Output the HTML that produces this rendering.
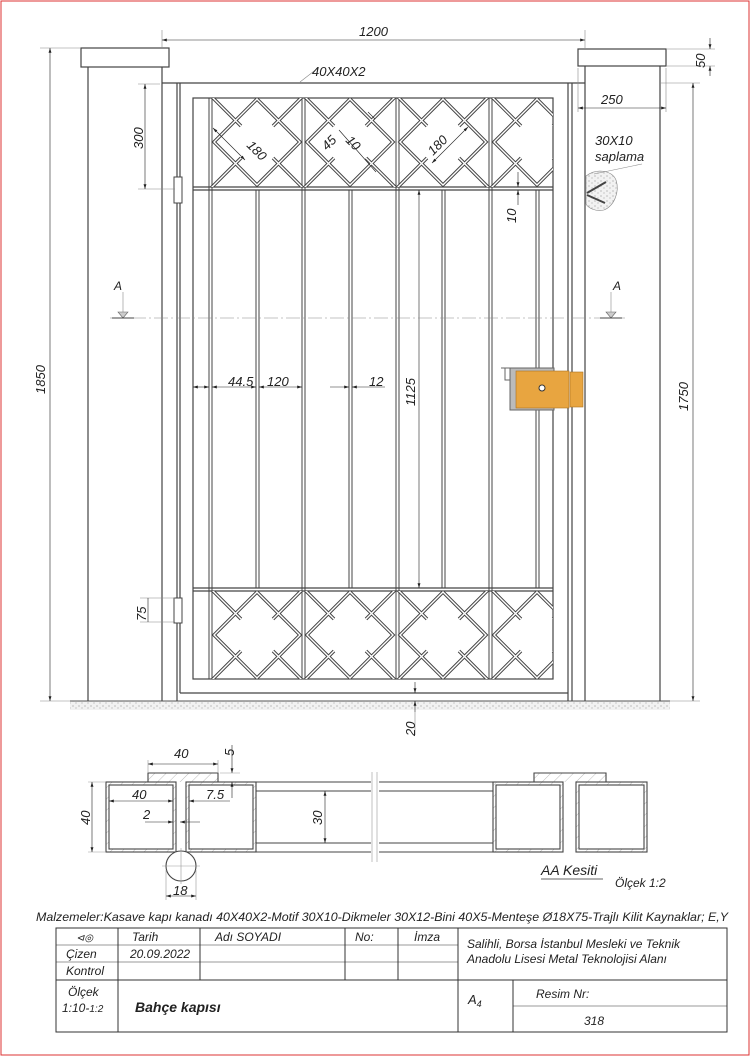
<!DOCTYPE html>
<html><head><meta charset="utf-8"><style>
html,body{margin:0;padding:0;background:#fff}
svg{display:block}
text{font-family:"Liberation Sans",sans-serif;font-style:italic;fill:#222}
</style></head><body>
<svg width="750" height="1056" viewBox="0 0 750 1056" xmlns="http://www.w3.org/2000/svg">
<defs>
<marker id="ar" viewBox="0 0 10 6" refX="10" refY="3" markerWidth="8" markerHeight="5" orient="auto-start-reverse"><path d="M0,0L10,3L0,6z" fill="#222"/></marker>
<pattern id="st" width="6" height="5" patternUnits="userSpaceOnUse"><rect width="6" height="5" fill="#f2f2f2"/><circle cx="1" cy="1" r=".6" fill="#999"/><circle cx="4" cy="3" r=".6" fill="#aaa"/></pattern>
<pattern id="ht" width="8" height="8" patternUnits="userSpaceOnUse" patternTransform="rotate(45)"><line x1="0" y1="0" x2="0" y2="8" stroke="#bbb" stroke-width="1"/></pattern>
<g id="mo">
<path d="M0,-43L43,0L0,43L-43,0Z M-16,-16L-75,-75 M16,-16L75,-75 M-16,16L-75,75 M16,16L75,75" fill="none" stroke="#444" stroke-width="3.4"/>
<path d="M0,-43L43,0L0,43L-43,0Z M-16,-16L-75,-75 M16,-16L75,-75 M-16,16L-75,75 M16,16L75,75" fill="none" stroke="#fff" stroke-width="1.4"/>
</g>
<clipPath id="c1"><rect x="193" y="98" width="360" height="89"/></clipPath>
<clipPath id="c2"><rect x="193" y="591" width="360" height="88"/></clipPath>
</defs>
<rect x="1" y="1" width="748" height="1054" fill="none" stroke="#d33" stroke-width="1"/>

<rect x="70" y="701" width="600" height="9" fill="url(#st)"/>
<line x1="70" y1="701" x2="670" y2="701" stroke="#555" stroke-width="1"/>

<g stroke="#444" fill="none" stroke-width="1.2">
<rect x="81" y="48" width="88" height="19" fill="#fff"/>
<line x1="88" y1="67" x2="88" y2="701"/><line x1="162" y1="67" x2="162" y2="701"/>
<rect x="578" y="49" width="88" height="17" fill="#fff"/>
<line x1="585" y1="66" x2="585" y2="701"/><line x1="660" y1="66" x2="660" y2="701"/>
<line x1="162" y1="83" x2="585" y2="83"/>
<line x1="177" y1="83" x2="177" y2="701"/><line x1="180" y1="83" x2="180" y2="693"/>
<line x1="568" y1="83" x2="568" y2="701"/><line x1="572" y1="83" x2="572" y2="701"/>
<line x1="180" y1="693" x2="568" y2="693"/>
<rect x="193" y="98" width="360" height="581"/>
<line x1="193" y1="187" x2="553" y2="187"/><line x1="193" y1="190" x2="553" y2="190"/>
<line x1="193" y1="588" x2="553" y2="588"/><line x1="193" y1="591" x2="553" y2="591"/>
</g>
<g stroke="#444" stroke-width="1">
<line x1="209" y1="98" x2="209" y2="679"/><line x1="212" y1="98" x2="212" y2="679"/>
<line x1="256" y1="190" x2="256" y2="588"/><line x1="259" y1="190" x2="259" y2="588"/>
<line x1="302" y1="98" x2="302" y2="679"/><line x1="305" y1="98" x2="305" y2="679"/>
<line x1="349" y1="190" x2="349" y2="588"/><line x1="352" y1="190" x2="352" y2="588"/>
<line x1="396" y1="98" x2="396" y2="679"/><line x1="399" y1="98" x2="399" y2="679"/>
<line x1="442" y1="190" x2="442" y2="588"/><line x1="445" y1="190" x2="445" y2="588"/>
<line x1="489" y1="98" x2="489" y2="679"/><line x1="492" y1="98" x2="492" y2="679"/>
<line x1="536" y1="190" x2="536" y2="588"/><line x1="539" y1="190" x2="539" y2="588"/>
</g>
<g clip-path="url(#c1)">
<use href="#mo" x="257" y="142"/><use href="#mo" x="350" y="142"/><use href="#mo" x="443" y="142"/><use href="#mo" x="537" y="142"/>
</g>
<g clip-path="url(#c2)">
<use href="#mo" x="257" y="635"/><use href="#mo" x="350" y="635"/><use href="#mo" x="443" y="635"/><use href="#mo" x="537" y="635"/>
</g>
<rect x="174" y="177" width="8" height="26" fill="#fff" stroke="#444"/>
<rect x="174" y="598" width="8" height="25" fill="#fff" stroke="#444"/>

<path d="M501,368H515V380H505V368" fill="#fff" stroke="#666"/>
<rect x="510" y="368" width="44" height="42" fill="#bbb" stroke="#666"/>
<rect x="516" y="371" width="53" height="37" fill="#e8a540" stroke="#a87020" stroke-width=".6"/>
<rect x="570" y="372" width="13" height="35" fill="#e8a540" stroke="#a87020" stroke-width=".6"/>
<circle cx="542" cy="388" r="3" fill="#fff" stroke="#333"/>

<path d="M586,176C596,168 612,170 616,180C620,192 614,206 604,210C596,212 588,208 586,204Z" fill="url(#st)" stroke="#888" stroke-width=".6"/>
<path d="M587,193L606,182M587,195L605,203" stroke="#444" stroke-width="2"/>
<line x1="594" y1="174" x2="642" y2="164" stroke="#888" stroke-width=".6"/>
<text x="595" y="145" font-size="13">30X10</text>
<text x="595" y="161" font-size="13">saplama</text>

<g stroke="#888" stroke-width=".6" fill="none">
<line x1="162" y1="30" x2="162" y2="48"/><line x1="585" y1="30" x2="585" y2="48"/>
<line x1="162" y1="40" x2="585" y2="40" stroke="#222" marker-start="url(#ar)" marker-end="url(#ar)"/>
<line x1="40" y1="48" x2="81" y2="48"/><line x1="40" y1="701" x2="70" y2="701"/>
<line x1="50" y1="48" x2="50" y2="701" stroke="#222" marker-start="url(#ar)" marker-end="url(#ar)"/>
<line x1="138" y1="84" x2="160" y2="84"/><line x1="138" y1="189" x2="175" y2="189"/>
<line x1="145" y1="84" x2="145" y2="189" stroke="#222" marker-start="url(#ar)" marker-end="url(#ar)"/>
<line x1="140" y1="598" x2="175" y2="598"/><line x1="140" y1="622" x2="175" y2="622"/>
<line x1="148" y1="598" x2="148" y2="622" stroke="#222"/>
<line x1="660" y1="83" x2="700" y2="83"/><line x1="670" y1="701" x2="700" y2="701"/>
<line x1="693" y1="83" x2="693" y2="701" stroke="#222" marker-start="url(#ar)" marker-end="url(#ar)"/>
<line x1="666" y1="49" x2="715" y2="49"/><line x1="666" y1="66" x2="715" y2="66"/>
<line x1="710" y1="38" x2="710" y2="49" stroke="#222" marker-end="url(#ar)"/><line x1="710" y1="76" x2="710" y2="66" stroke="#222" marker-end="url(#ar)"/>
<line x1="578" y1="68" x2="578" y2="112"/><line x1="666" y1="68" x2="666" y2="112"/>
<line x1="578" y1="108" x2="666" y2="108" stroke="#222" marker-start="url(#ar)" marker-end="url(#ar)"/>
<line x1="300" y1="82" x2="318" y2="68"/>
<line x1="193" y1="387" x2="209" y2="387" stroke="#222" marker-start="url(#ar)" marker-end="url(#ar)"/>
<line x1="212" y1="387" x2="256" y2="387" stroke="#222" marker-start="url(#ar)" marker-end="url(#ar)"/>
<line x1="259" y1="387" x2="302" y2="387" stroke="#222" marker-start="url(#ar)" marker-end="url(#ar)"/>
<line x1="330" y1="387" x2="349" y2="387" stroke="#222" marker-end="url(#ar)"/><line x1="385" y1="387" x2="352" y2="387" stroke="#222" marker-end="url(#ar)"/>
<line x1="419" y1="190" x2="419" y2="588" stroke="#222" marker-start="url(#ar)" marker-end="url(#ar)"/>
<line x1="518" y1="172" x2="518" y2="187" stroke="#222" marker-end="url(#ar)"/><line x1="518" y1="205" x2="518" y2="190" stroke="#222" marker-end="url(#ar)"/>
<line x1="415" y1="682" x2="415" y2="693" stroke="#222" marker-end="url(#ar)"/><line x1="415" y1="712" x2="415" y2="701" stroke="#222" marker-end="url(#ar)"/>
<line x1="415" y1="712" x2="415" y2="735"/>
<line x1="213" y1="128" x2="245" y2="160" stroke="#222" marker-start="url(#ar)" marker-end="url(#ar)"/>
<line x1="468" y1="127" x2="432" y2="163" stroke="#222" marker-start="url(#ar)" marker-end="url(#ar)"/>
<line x1="368" y1="112" x2="375" y2="119" stroke="#222"/>
<line x1="339" y1="130" x2="376" y2="172" stroke="#222"/>
<line x1="110" y1="318" x2="625" y2="318" stroke-dasharray="14 3 2 3"/>
<line x1="123" y1="292" x2="123" y2="312"/><line x1="611" y1="292" x2="611" y2="312"/>
</g>
<path d="M118,312L128,312L123,318Z" fill="#ccc" stroke="#666" stroke-width=".6"/>
<path d="M606,312L616,312L611,318Z" fill="#ccc" stroke="#666" stroke-width=".6"/>
<line x1="112" y1="318" x2="134" y2="318" stroke="#444"/>
<line x1="600" y1="318" x2="622" y2="318" stroke="#444"/>
<text x="114" y="290" font-size="12">A</text>
<text x="613" y="290" font-size="12">A</text>

<g font-size="13">
<text x="359" y="36">1200</text>
<text x="312" y="76">40X40X2</text>
<text x="601" y="104">250</text>
<text x="228" y="386">44.5</text>
<text x="267" y="386">120</text>
<text x="369" y="386">12</text>
<text transform="translate(45,394) rotate(-90)">1850</text>
<text transform="translate(143,149) rotate(-90)">300</text>
<text transform="translate(688,411) rotate(-90)">1750</text>
<text transform="translate(705,68) rotate(-90)">50</text>
<text transform="translate(146,621) rotate(-90)">75</text>
<text transform="translate(415,406) rotate(-90)">1125</text>
<text transform="translate(516,223) rotate(-90)">10</text>
<text transform="translate(415,736) rotate(-90)">20</text>
<text transform="translate(246,146) rotate(45)">180</text>
<text transform="translate(433,156) rotate(-45)">180</text>
<text transform="translate(327,151) rotate(-45)">45</text>
<text transform="translate(345,141) rotate(45)">10</text>
</g>

<g stroke="#444" stroke-width="1.1" fill="none">
<path d="M148,782V773H218V782" fill="url(#ht)"/>
<path d="M534,782V773H606V782" fill="url(#ht)"/>
<rect x="106" y="782" width="70" height="70" fill="url(#ht)"/><rect x="109" y="785" width="64" height="64" fill="#fff"/>
<rect x="186" y="782" width="70" height="70" fill="url(#ht)"/><rect x="189" y="785" width="64" height="64" fill="#fff"/>
<rect x="493" y="782" width="70" height="70" fill="url(#ht)"/><rect x="496" y="785" width="64" height="64" fill="#fff"/>
<rect x="576" y="782" width="71" height="70" fill="url(#ht)"/><rect x="579" y="785" width="65" height="64" fill="#fff"/>
<line x1="256" y1="782" x2="493" y2="782"/><line x1="256" y1="791" x2="493" y2="791"/>
<line x1="256" y1="843" x2="493" y2="843"/><line x1="256" y1="852" x2="493" y2="852"/>
<circle cx="181" cy="866" r="15" fill="#fff"/>
</g>
<rect x="371" y="772" width="8" height="90" fill="#fff"/>
<g stroke="#999" stroke-width=".6" fill="none">
<line x1="372" y1="772" x2="372" y2="862"/><line x1="377" y1="772" x2="377" y2="862"/>
<line x1="162" y1="866" x2="200" y2="866"/><line x1="181" y1="848" x2="181" y2="884"/>
<line x1="148" y1="760" x2="148" y2="773"/><line x1="218" y1="760" x2="218" y2="773"/>
<line x1="148" y1="764" x2="218" y2="764" stroke="#222" marker-start="url(#ar)" marker-end="url(#ar)"/>
<line x1="232" y1="745" x2="232" y2="773" stroke="#222" marker-end="url(#ar)"/><line x1="232" y1="798" x2="232" y2="782" stroke="#222" marker-end="url(#ar)"/>
<line x1="220" y1="773" x2="240" y2="773"/>
<line x1="88" y1="782" x2="106" y2="782"/><line x1="88" y1="852" x2="106" y2="852"/>
<line x1="92" y1="782" x2="92" y2="852" stroke="#222" marker-start="url(#ar)" marker-end="url(#ar)"/>
<line x1="109" y1="801" x2="173" y2="801" stroke="#222" marker-start="url(#ar)" marker-end="url(#ar)"/>
<line x1="189" y1="801" x2="230" y2="801" stroke="#222" marker-start="url(#ar)"/>
<line x1="145" y1="822" x2="173" y2="822" stroke="#222" marker-end="url(#ar)"/><line x1="200" y1="822" x2="180" y2="822" stroke="#222" marker-end="url(#ar)"/>
<line x1="325" y1="791" x2="325" y2="843" stroke="#222" marker-start="url(#ar)" marker-end="url(#ar)"/>
<line x1="166" y1="870" x2="166" y2="900"/><line x1="196" y1="870" x2="196" y2="900"/>
<line x1="166" y1="896" x2="196" y2="896" stroke="#222" marker-start="url(#ar)" marker-end="url(#ar)"/>
</g>
<g font-size="13">
<text x="174" y="758">40</text>
<text transform="translate(234,756) rotate(-90)">5</text>
<text transform="translate(90,825) rotate(-90)">40</text>
<text x="132" y="799">40</text>
<text x="206" y="799">7.5</text>
<text x="143" y="819">2</text>
<text transform="translate(322,825) rotate(-90)">30</text>
<text x="173" y="895">18</text>
<text x="541" y="875" font-size="14">AA Kesiti</text>
<text x="615" y="887" font-size="12">Ölçek 1:2</text>
</g>
<line x1="541" y1="879" x2="603" y2="879" stroke="#333" stroke-width=".7"/>

<text x="36" y="921" font-size="12" textLength="692" lengthAdjust="spacingAndGlyphs">Malzemeler:Kasave kapı kanadı 40X40X2-Motif 30X10-Dikmeler 30X12-Bini 40X5-Menteşe Ø18X75-Trajlı Kilit   Kaynaklar; E,Y</text>
<g stroke="#333" stroke-width="1" fill="none">
<rect x="56" y="928" width="671" height="104"/>
<line x1="458" y1="928" x2="458" y2="1032"/>
<line x1="56" y1="980" x2="727" y2="980"/>
<line x1="118" y1="928" x2="118" y2="1032"/>
<line x1="200" y1="928" x2="200" y2="980"/>
<line x1="345" y1="928" x2="345" y2="980"/>
<line x1="398" y1="928" x2="398" y2="980"/>
<line x1="513" y1="980" x2="513" y2="1032"/>
<line x1="56" y1="945" x2="458" y2="945" stroke-width=".6"/>
<line x1="56" y1="962" x2="458" y2="962" stroke-width=".6"/>
<line x1="513" y1="1006" x2="727" y2="1006" stroke-width=".6"/>
</g>
<g font-size="12">
<text x="76" y="941" font-size="10" fill="#888">⊲◎</text>
<text x="132" y="941">Tarih</text>
<text x="215" y="941">Adı SOYADI</text>
<text x="355" y="941">No:</text>
<text x="414" y="941">İmza</text>
<text x="66" y="958">Çizen</text>
<text x="130" y="958">20.09.2022</text>
<text x="66" y="975">Kontrol</text>
<text x="467" y="948">Salihli, Borsa İstanbul Mesleki ve Teknik</text>
<text x="467" y="963">Anadolu Lisesi     Metal Teknolojisi Alanı</text>
<text x="68" y="996">Ölçek</text>
<text x="62" y="1012">1:10-<tspan font-size="10">1:2</tspan></text>
<text x="135" y="1012" font-size="14" font-weight="bold">Bahçe kapısı</text>
<text x="468" y="1004" font-size="13">A<tspan font-size="9" dy="3">4</tspan></text>
<text x="536" y="998">Resim Nr:</text>
<text x="584" y="1025">318</text>
</g>
</svg>
</body></html>
